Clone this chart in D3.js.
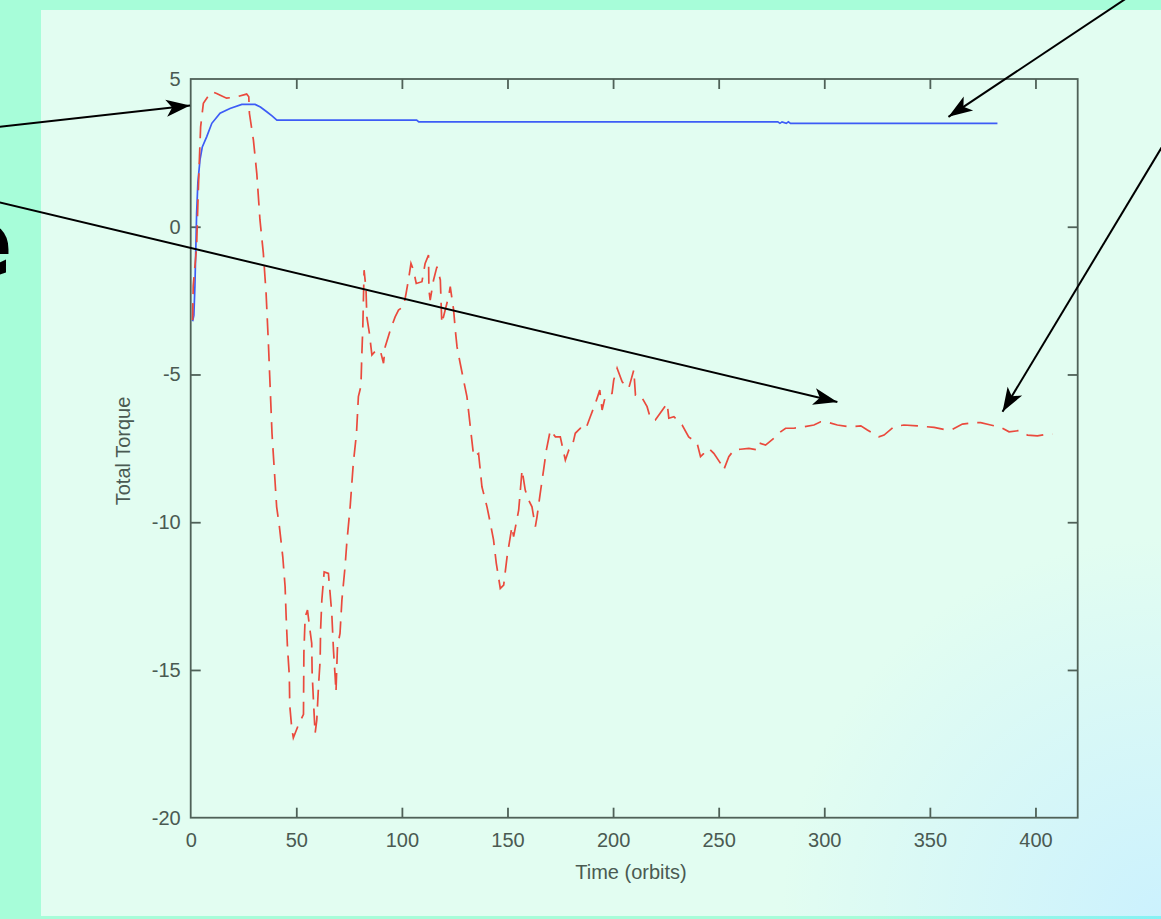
<!DOCTYPE html>
<html>
<head>
<meta charset="utf-8">
<script src="https://cdn.jsdelivr.net/npm/d3@7"></script>
<style>
  html, body { margin: 0; padding: 0; background: #a7fdd9; }
  svg { display: block; }
  .tick text { font-family: "Liberation Sans", Arial, sans-serif; font-size: 20px; fill: #4a5a52; }
  .axis-label { font-family: "Liberation Sans", Arial, sans-serif; font-size: 20px; fill: #4a5a52; }
</style>
</head>
<body>
<svg id="chart" width="1161" height="919"></svg>
<script>
// Total torque over time (orbits): controlled (blue, solid) vs. uncontrolled (red, dashed)
const xTicks = [0, 50, 100, 150, 200, 250, 300, 350, 400];
const yTicks = [5, 0, -5, -10, -15, -20];

const blueTime = [0.9, 1.5, 2, 2.5, 2.8, 3.4, 4.4, 5.5, 7.6, 10, 13.9, 18.6, 24.2, 30.5, 33, 36, 38.5, 40.8,
  107, 108, 278, 279, 280, 282, 283, 284, 382];
const blueTorque = [-3.2, -3.0, -2.0, -0.5, 0.45, 1.5, 2.26, 2.7, 3.05, 3.5, 3.84, 4.0, 4.14, 4.14, 4.05, 3.89, 3.75, 3.61,
  3.61, 3.55, 3.55, 3.5, 3.55, 3.5, 3.55, 3.5, 3.5];

const redTime = [0.9, 1.2, 2.8, 3.5, 4.1, 4.7, 6.0, 7.6, 10, 12.3, 14, 17, 21.8, 26.5, 27.5, 27.8, 29.7, 31.3, 32.8, 34.4,
  35.7, 36.8, 38.5, 40.7, 42, 43.6, 44.7, 45.2, 45.8, 46.7, 46.9, 47.9, 48.6, 51, 53.4, 53.5, 53.6, 54.2, 55.3, 56.2,
  57.3, 57.5, 58.1, 58.9, 59.7, 60.5, 61.3, 61.5, 62.1, 63.2, 65.2, 66, 66.8, 67.6, 68.4, 68.8, 69.5, 70.7, 71.6, 73.1,
  73.9, 75.5, 77, 78.5, 79.4, 80.6, 81, 81.5, 82.1, 83, 83.4, 84.6, 85.8, 87.5, 89.7, 91.3, 92.1, 94.5, 96.8, 98.4,
  100.8, 102, 103.1, 104.3, 105.5, 106.8, 109.5, 111, 112.6, 112.8, 113.4, 115, 116.6, 118.2, 118.9, 120.5, 122.1, 122.9, 124.5, 125.3,
  126.1, 127.6, 129.2, 130.8, 132.4, 134, 136.3, 137.9, 140.3, 141.9, 143.4, 144.7, 146.6, 148.2, 149.8, 152.1, 152.9, 155.3, 156.9, 158.4,
  160, 161.6, 163.2, 164, 165.5, 167.1, 168.4, 170.3, 172.7, 175, 177.4, 179, 180.6, 182.1, 184.5, 186.9, 189.2, 191.6, 193.7, 194.8,
  196.3, 199.5, 200.3, 201.9, 204.3, 207.4, 209.8, 210.6, 213, 216.1, 217.7, 220, 225.6, 226.4, 228.8, 232.7, 235.8, 239.8, 241.4, 243,
  245.3, 247.7, 250.8, 252.4, 254.8, 257.2, 260.3, 264.3, 269, 269.8, 272.2, 276.9, 279.3, 281.7, 285.6, 290.4, 295.1, 298.3, 302.2, 306.2,
  311.7, 317.3, 320.4, 325.9, 328.3, 333, 337.7, 344.1, 352, 356.7, 360.7, 365.4, 370.9, 374.1, 378.8, 383.6, 387.5, 392.2, 396.2, 400.9,
  405.7, 408];
const redTorque = [-3.16, -2.0, -0.68, 1.0, 2.26, 3.38, 4.18, 4.35, 4.57, 4.51, 4.45, 4.35, 4.4, 4.49, 4.4, 3.84, 2.93, 1.8, 0.23, -0.9,
  -2.25, -3.95, -7.0, -9.48, -10.15, -11.17, -12.18, -13.2, -14.2, -15.2, -16.2, -17.0, -17.3, -16.86, -16.5, -15.45, -14.4, -13.2, -12.97, -13.5,
  -14.1, -15.1, -16.0, -17.15, -16.7, -15.57, -14.66, -13.65, -12.63, -11.68, -11.73, -12.4, -13.08, -14.32, -15.23, -15.74, -14.2, -13.76, -12.63, -11.5,
  -10.71, -9.48, -8.0, -7.0, -5.75, -5.4, -4.4, -3.38, -1.47, -2.1, -3.05, -3.6, -4.34, -4.2, -4.17, -4.62, -4.06, -3.5, -3.05, -2.82,
  -2.7, -2.25, -1.8, -1.24, -1.47, -1.92, -1.86, -1.24, -0.96, -2.14, -2.48, -1.8, -1.35, -1.8, -3.27, -2.82, -2.37, -2.03, -2.82, -3.5,
  -4.06, -4.62, -5.19, -5.75, -6.77, -7.78, -7.67, -8.8, -9.48, -10.04, -10.6, -11.39, -12.24, -12.13, -11.17, -10.15, -10.49, -9.59, -8.23, -8.91,
  -9.25, -9.48, -10.15, -9.81, -9.02, -8.23, -7.56, -6.88, -7.11, -7.11, -7.9, -7.56, -7.45, -6.99, -6.82, -6.88, -6.43, -5.98, -5.53, -6.2,
  -5.75, -5.64, -5.19, -4.79, -5.25, -5.47, -4.85, -5.7, -5.7, -6.09, -6.48, -6.54, -5.98, -6.48, -6.43, -6.71, -7.11, -7.33, -7.78, -7.67,
  -7.5, -7.67, -8.0, -8.23, -7.78, -7.56, -7.53, -7.5, -7.56, -7.33, -7.39, -7.11, -6.94, -6.82, -6.82, -6.77, -6.71, -6.6, -6.63, -6.71,
  -6.77, -6.74, -6.88, -7.11, -7.05, -6.77, -6.71, -6.74, -6.79, -6.86, -6.86, -6.68, -6.63, -6.63, -6.71, -6.79, -6.94, -6.9, -7.05, -7.08,
  -7.02, -7.02];

// Annotation arrows: [tailTime, tailTorque, tipTime, tipTorque]
const arrows = [
  [-95, 3.35, -0.3, 4.1],
  [-95, 0.9, 306.2, -5.93],
  [455, 8.3, 358.8, 3.72],
  [470, 3.9, 384.4, -6.26]
];

const svg = d3.select("#chart");
const W = 1161, H = 919;

const defs = svg.append("defs");
const glow = defs.append("radialGradient").attr("id", "corner")
  .attr("gradientUnits", "userSpaceOnUse")
  .attr("cx", 1161).attr("cy", 919).attr("r", 380);
glow.append("stop").attr("offset", "0").attr("stop-color", "#c9f0ff").attr("stop-opacity", 0.9);
glow.append("stop").attr("offset", "1").attr("stop-color", "#c9f0ff").attr("stop-opacity", 0);

const edge = defs.append("linearGradient").attr("id", "edge")
  .attr("x1", 0).attr("x2", 1).attr("y1", 0).attr("y2", 0);
edge.append("stop").attr("offset", "0.75").attr("stop-color", "#a7fdd9");
edge.append("stop").attr("offset", "1").attr("stop-color", "#85f2f5");

defs.append("marker").attr("id", "head")
  .attr("markerUnits", "userSpaceOnUse")
  .attr("viewBox", "-25 -10 27 20")
  .attr("refX", 0).attr("refY", 0)
  .attr("markerWidth", 27).attr("markerHeight", 20)
  .attr("orient", "auto")
  .append("path").attr("d", "M0,0 L-24,-8.5 L-18,0 L-24,8.5 Z").attr("fill", "#000");

// slide background and panel
svg.append("rect").attr("width", W).attr("height", H).attr("fill", "#a7fdd9");
svg.append("rect").attr("x", 0).attr("y", 916).attr("width", W).attr("height", 3).attr("fill", "url(#edge)");
svg.append("rect").attr("x", 41).attr("y", 10).attr("width", W - 41).attr("height", 906).attr("fill", "#e2fdf1");
svg.append("rect").attr("x", 41).attr("y", 10).attr("width", W - 41).attr("height", 906).attr("fill", "url(#corner)");

// fragment of the slide title letter at the left edge
svg.append("text").attr("x", -52).attr("y", 276)
  .style("font-family", "'DejaVu Sans', sans-serif").style("font-weight", "bold")
  .style("font-size", "96px").attr("fill", "#000").text("e");

const x = d3.scaleLinear().domain([0, 420]).range([190.7, 1077.7]);
const y = d3.scaleLinear().domain([-20, 5]).range([817.7, 79]);

const axisColor = "#4f6158";
const plain = d => String(d);

const gx = svg.append("g").attr("transform", `translate(0,${y(-20)})`)
  .call(d3.axisBottom(x).tickValues(xTicks).tickFormat(plain).tickSizeInner(-10).tickSizeOuter(0).tickPadding(15));
const gy = svg.append("g").attr("transform", `translate(${x(0)},0)`)
  .call(d3.axisLeft(y).tickValues(yTicks).tickFormat(plain).tickSizeInner(-10).tickSizeOuter(0).tickPadding(10));
const gt = svg.append("g").attr("transform", `translate(0,${y(5)})`)
  .call(d3.axisTop(x).tickValues(xTicks).tickSizeInner(-10).tickSizeOuter(0).tickFormat(""));
const gr = svg.append("g").attr("transform", `translate(${x(420)},0)`)
  .call(d3.axisRight(y).tickValues(yTicks).tickSizeInner(-10).tickSizeOuter(0).tickFormat(""));

[gx, gy, gt, gr].forEach(g => {
  g.select(".domain").remove();
  g.selectAll(".tick line").attr("stroke", axisColor).attr("stroke-width", 1.8);
});
gy.selectAll(".tick").filter(d => d === 5 || d === -20).select("line").remove();
gr.selectAll(".tick").filter(d => d === 5 || d === -20).select("line").remove();
gx.selectAll(".tick").filter(d => d === 0).select("line").remove();
gt.selectAll(".tick").filter(d => d === 0).select("line").remove();

svg.append("rect")
  .attr("x", x(0)).attr("y", y(5))
  .attr("width", x(420) - x(0)).attr("height", y(-20) - y(5))
  .attr("fill", "none").attr("stroke", axisColor).attr("stroke-width", 1.8);

svg.append("text").attr("class", "axis-label")
  .attr("x", 631).attr("y", 879).attr("text-anchor", "middle").text("Time (orbits)");
svg.append("text").attr("class", "axis-label")
  .attr("transform", "translate(130,451) rotate(-90)")
  .attr("text-anchor", "middle").text("Total Torque");

const line = d3.line().x(d => x(d[0])).y(d => y(d[1]));

svg.append("path")
  .datum(blueTime.map((t, i) => [t, blueTorque[i]]))
  .attr("d", line).attr("fill", "none")
  .attr("stroke", "#3d5cf6").attr("stroke-width", 1.7);

svg.append("path")
  .datum(redTime.map((t, i) => [t, redTorque[i]]))
  .attr("d", line).attr("fill", "none")
  .attr("stroke", "#ea4a3d").attr("stroke-width", 1.7)
  .attr("stroke-dasharray", "17,9");

svg.selectAll(".arrow").data(arrows).join("line")
  .attr("class", "arrow")
  .attr("x1", d => x(d[0])).attr("y1", d => y(d[1]))
  .attr("x2", d => x(d[2])).attr("y2", d => y(d[3]))
  .attr("stroke", "#000").attr("stroke-width", 2)
  .attr("marker-end", "url(#head)");
</script>
</body>
</html>
